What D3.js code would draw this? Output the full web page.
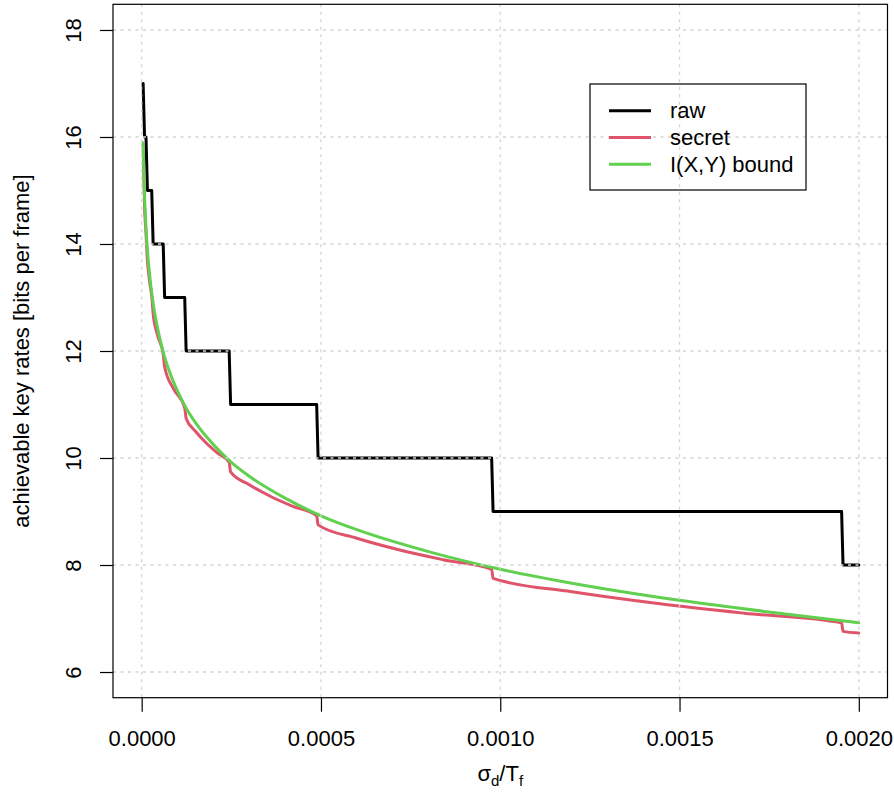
<!DOCTYPE html>
<html>
<head>
<meta charset="utf-8">
<script src="https://cdn.jsdelivr.net/npm/d3@7"></script>
<style>
  body { margin: 0; background: #fff; }
  text { font-family: "Liberation Sans", Arial, sans-serif; fill: #000; }
</style>
</head>
<body>
<svg width="894" height="803"></svg>
<script>
// values (x in units of sigma_d / T_f)
var xTicks = [0, 0.0005, 0.001, 0.0015, 0.002];
var yTicks = [6, 8, 10, 12, 14, 16, 18];

// raw key rate: step levels
var rawX = [4e-6, 8e-6, 12e-6, 16e-6, 28e-6, 32e-6, 60e-6, 64e-6, 120e-6, 124e-6,
  244e-6, 248e-6, 488e-6, 492e-6, 976e-6, 980e-6, 1952e-6, 1956e-6, 2000e-6];
var rawY = [17, 16, 16, 15, 15, 14, 14, 13, 13, 12,
  12, 11, 11, 10, 10, 9, 9, 8, 8];

// secret key rate
var secretX = [4e-6, 8e-6, 12e-6, 16e-6, 20e-6, 24e-6, 28e-6, 32e-6, 44e-6, 60e-6,
  64e-6, 90e-6, 120e-6, 124e-6, 150e-6, 180e-6, 210e-6, 244e-6, 248e-6, 300e-6,
  360e-6, 420e-6, 488e-6, 492e-6, 600e-6, 720e-6, 840e-6, 976e-6, 980e-6, 1200e-6,
  1440e-6, 1680e-6, 1952e-6, 1956e-6, 2000e-6];
var secretY = [15.85, 14.69, 14.21, 13.69, 13.42, 13.21, 13.03, 12.70, 12.30, 11.94,
  11.70, 11.28, 10.94, 10.74, 10.50, 10.28, 10.10, 9.92, 9.74, 9.50,
  9.28, 9.10, 8.92, 8.75, 8.50, 8.28, 8.10, 7.92, 7.75, 7.50,
  7.28, 7.10, 6.92, 6.76, 6.73];

// I(X,Y) bound
var boundX = [4e-6, 6e-6, 8e-6, 10e-6, 13e-6, 16e-6, 20e-6, 25e-6, 30e-6, 40e-6,
  50e-6, 60e-6, 80e-6, 100e-6, 125e-6, 150e-6, 200e-6, 250e-6, 300e-6, 400e-6,
  500e-6, 600e-6, 800e-6, 1000e-6, 1200e-6, 1500e-6, 1800e-6, 2000e-6];
var boundY = [15.89, 15.31, 14.89, 14.57, 14.19, 13.89, 13.57, 13.25, 12.98, 12.57,
  12.25, 11.98, 11.57, 11.25, 10.92, 10.66, 10.25, 9.92, 9.66, 9.25,
  8.92, 8.66, 8.25, 7.92, 7.66, 7.34, 7.08, 6.92];

var seriesNames = ["raw", "secret", "I(X,Y) bound"];
var seriesColors = ["#000000", "#DF536B", "#61D04F"];

var svg = d3.select("svg");
var pLeft = 113, pRight = 887.5, pTop = 4.3, pBottom = 697.7;
var fs = 22;
var font = "Liberation Sans, Arial, sans-serif";

var x = d3.scaleLinear().domain([-0.00008, 0.00208]).range([pLeft, pRight]);
var y = d3.scaleLinear().domain([5.52, 18.48]).range([pBottom, pTop]);

function zip(xs, ys) {
  return xs.map(function (v, i) { return [v, ys[i]]; });
}

var stepLine = d3.line().x((d) => x(d[0])).y((d) => y(d[1]));
var smoothLine = d3.line().x((d) => x(d[0])).y((d) => y(d[1])).curve(d3.curveMonotoneX);

var plot = svg.append("g");
[[zip(rawX, rawY), stepLine], [zip(secretX, secretY), smoothLine], [zip(boundX, boundY), smoothLine]]
  .forEach(function (s, i) {
    plot.append("path")
      .attr("d", s[1](s[0]))
      .attr("fill", "none")
      .attr("stroke", seriesColors[i])
      .attr("stroke-width", 3)
      .attr("stroke-linejoin", "round")
      .attr("stroke-linecap", "round");
  });

// grid on top of the lines, like R's grid()
var grid = svg.append("g")
  .attr("stroke", "#d3d3d3")
  .attr("stroke-width", 1.3)
  .attr("stroke-dasharray", "3,4.5");
grid.selectAll(".gx").data(xTicks).enter().append("line")
  .attr("x1", (d) => x(d)).attr("x2", (d) => x(d))
  .attr("y1", pTop).attr("y2", pBottom);
grid.selectAll(".gy").data(yTicks).enter().append("line")
  .attr("y1", (d) => y(d)).attr("y2", (d) => y(d))
  .attr("x1", pLeft).attr("x2", pRight);

// box
svg.append("rect")
  .attr("x", pLeft).attr("y", pTop)
  .attr("width", pRight - pLeft).attr("height", pBottom - pTop)
  .attr("fill", "none").attr("stroke", "#000").attr("stroke-width", 1.2);

// x axis
var xAxis = d3.axisBottom(x).tickValues(xTicks).tickFormat(d3.format(".4f"))
  .tickSize(14).tickPadding(19);
var gx = svg.append("g").attr("transform", "translate(0," + pBottom + ")").call(xAxis);
gx.select(".domain").remove();
gx.selectAll("text").style("font-size", fs + "px").style("font-family", font);
gx.selectAll("line").attr("stroke", "#000").attr("stroke-width", 1.2);

// y axis, labels parallel to the axis
var yAxis = d3.axisLeft(y).tickValues(yTicks).tickSize(13).tickFormat((d) => d);
var gy = svg.append("g").attr("transform", "translate(" + pLeft + ",0)").call(yAxis);
gy.select(".domain").remove();
gy.selectAll("line").attr("stroke", "#000").attr("stroke-width", 1.2);
gy.selectAll("text")
  .attr("x", null).attr("dy", null)
  .attr("transform", "translate(-32.5,0) rotate(-90)")
  .attr("text-anchor", "middle")
  .style("font-size", fs + "px")
  .style("font-family", font);

// axis titles
svg.append("text")
  .attr("transform", "translate(28.5," + (pTop + pBottom) / 2 + ") rotate(-90)")
  .attr("text-anchor", "middle")
  .style("font-size", fs + "px")
  .text("achievable key rates [bits per frame]");

var xt = svg.append("text")
  .attr("x", (pLeft + pRight) / 2).attr("y", 781)
  .attr("text-anchor", "middle")
  .style("font-size", fs + "px");
xt.append("tspan").text("σ");
xt.append("tspan").attr("dy", 5).style("font-size", "15px").text("d");
xt.append("tspan").attr("dy", -5).text("/T");
xt.append("tspan").attr("dy", 5).style("font-size", "15px").text("f");

// legend
var lg = svg.append("g");
lg.append("rect")
  .attr("x", 590).attr("y", 84).attr("width", 216).attr("height", 106)
  .attr("fill", "none").attr("stroke", "#000").attr("stroke-width", 1.2);
seriesNames.forEach(function (name, i) {
  var ry = 110.7 + i * 26.8;
  lg.append("line")
    .attr("x1", 609).attr("x2", 651).attr("y1", ry).attr("y2", ry)
    .attr("stroke", seriesColors[i]).attr("stroke-width", 3);
  lg.append("text")
    .attr("x", 670).attr("y", ry).attr("dy", "0.35em")
    .style("font-size", fs + "px")
    .text(name);
});
</script>
</body>
</html>
